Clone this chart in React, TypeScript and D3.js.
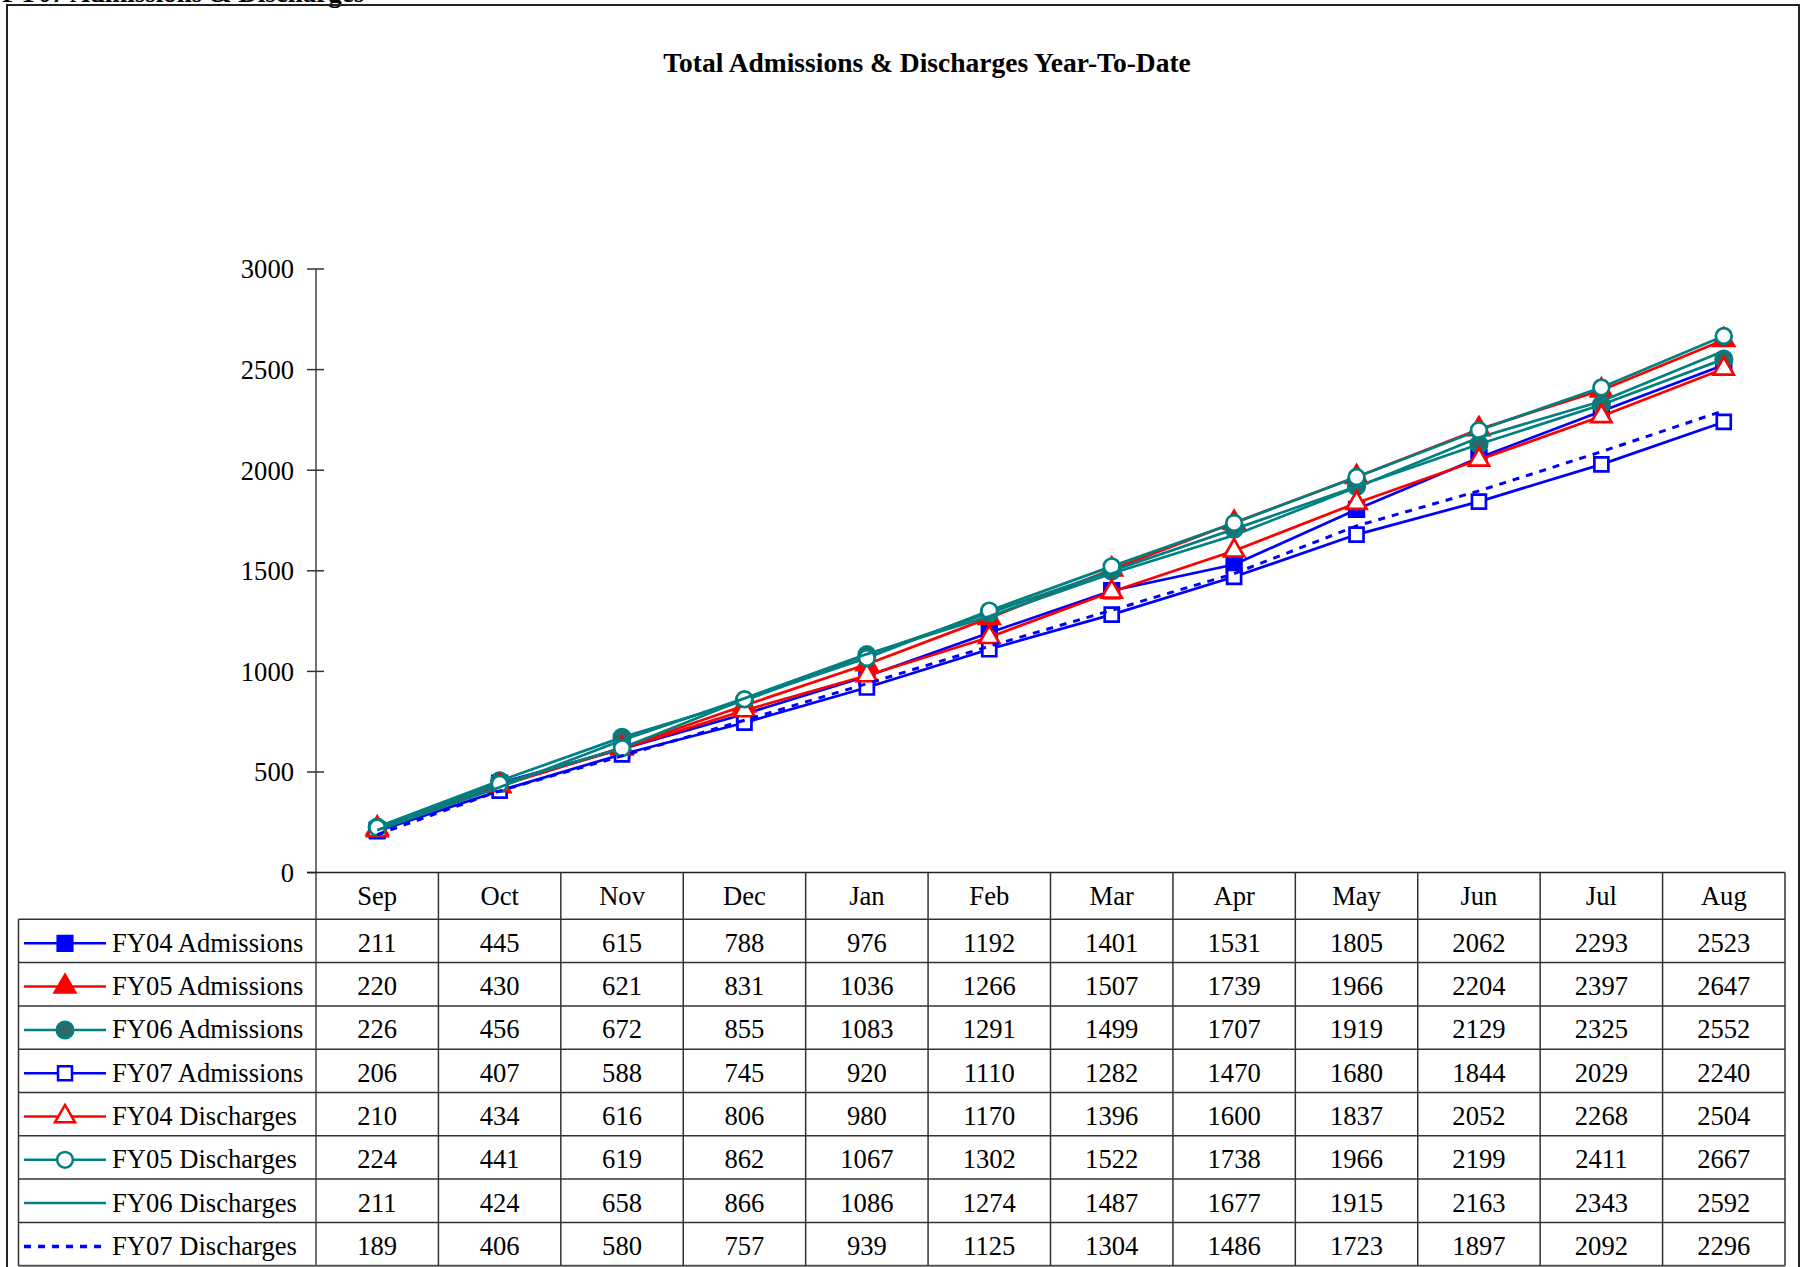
import React from "react";
import * as d3 from "d3";

const months = ["Sep", "Oct", "Nov", "Dec", "Jan", "Feb", "Mar", "Apr", "May", "Jun", "Jul", "Aug"];
const yTicks = [0, 500, 1000, 1500, 2000, 2500, 3000];

const fy04Admissions = [211, 445, 615, 788, 976, 1192, 1401, 1531, 1805, 2062, 2293, 2523];
const fy05Admissions = [220, 430, 621, 831, 1036, 1266, 1507, 1739, 1966, 2204, 2397, 2647];
const fy06Admissions = [226, 456, 672, 855, 1083, 1291, 1499, 1707, 1919, 2129, 2325, 2552];
const fy07Admissions = [206, 407, 588, 745, 920, 1110, 1282, 1470, 1680, 1844, 2029, 2240];
const fy04Discharges = [210, 434, 616, 806, 980, 1170, 1396, 1600, 1837, 2052, 2268, 2504];
const fy05Discharges = [224, 441, 619, 862, 1067, 1302, 1522, 1738, 1966, 2199, 2411, 2667];
const fy06Discharges = [211, 424, 658, 866, 1086, 1274, 1487, 1677, 1915, 2163, 2343, 2592];
const fy07Discharges = [189, 406, 580, 757, 939, 1125, 1304, 1486, 1723, 1897, 2092, 2296];

const BLUE = "#0000ff";
const RED = "#ff0000";
const TEAL = "#008080";

type Series = {
  name: string;
  values: number[];
  color: string;
  symbol: d3.SymbolType | null;
  size: number;
  fill: string;
  dash?: string;
};

const series: Series[] = [
  { name: "FY04 Admissions", values: fy04Admissions, color: BLUE, symbol: d3.symbolSquare, size: 215, fill: BLUE },
  { name: "FY05 Admissions", values: fy05Admissions, color: RED, symbol: d3.symbolTriangle, size: 185, fill: RED },
  { name: "FY06 Admissions", values: fy06Admissions, color: TEAL, symbol: d3.symbolCircle, size: 215, fill: "#2f6868" },
  { name: "FY07 Admissions", values: fy07Admissions, color: BLUE, symbol: d3.symbolSquare, size: 195, fill: "#ffffff" },
  { name: "FY04 Discharges", values: fy04Discharges, color: RED, symbol: d3.symbolTriangle, size: 175, fill: "#ffffff" },
  { name: "FY05 Discharges", values: fy05Discharges, color: TEAL, symbol: d3.symbolCircle, size: 195, fill: "#ffffff" },
  { name: "FY06 Discharges", values: fy06Discharges, color: TEAL, symbol: null, size: 0, fill: "none" },
  { name: "FY07 Discharges", values: fy07Discharges, color: BLUE, symbol: null, size: 0, fill: "none", dash: "7,7" },
];

const W = 1803;
const H = 1267;
const FONT = "'Liberation Serif', 'Times New Roman', serif";
const FS = 26.6;

const App = () => {
  // plot geometry
  const left = 316;
  const right = 1785;
  const top = 269;
  const bottom = 872.6;
  const legendLeft = 18.5;
  const headerBottom = 919.3;
  const rowH = 43.3;

  const x = d3.scaleBand<string>().domain(months).range([left, right]);
  const y = d3.scaleLinear().domain([0, 3000]).range([bottom, top]);

  const line = d3.line<number>()
    .x((_, i) => (x(months[i]) ?? 0) + x.bandwidth() / 2)
    .y(d => y(d));

  const sym = (s: Series) => d3.symbol().type(s.symbol as d3.SymbolType).size(s.size)() ?? "";

  const tableBottom = headerBottom + rowH * series.length;

  return (
    <svg width={W} height={H} style={{ position: "absolute", left: 0, top: 0, background: "#fff" }}
      fontFamily={FONT}>
      <rect x={0} y={0} width={W} height={H} fill="#fff" />
      {/* header cut off above the frame, as in the source */}
      <text x={2} y={2} fontSize={27} fontWeight="bold" fill="#000">FY07 Admissions &amp; Discharges</text>
      {/* outer frame */}
      <rect x={7} y={5} width={1792} height={H + 10} fill="none" stroke="#222" strokeWidth={2} />

      <text x={927} y={72} textAnchor="middle" fontSize={27.5} fontWeight="bold" fill="#000">
        Total Admissions &amp; Discharges Year-To-Date
      </text>

      {/* y axis */}
      <line x1={left} x2={left} y1={top} y2={tableBottom} stroke="#444" strokeWidth={1.5} />
      {yTicks.map(t => (
        <g key={t}>
          <line x1={307} x2={t === 0 ? left : 324} y1={y(t)} y2={y(t)} stroke="#333" strokeWidth={1.5} />
          <text x={294} y={y(t)} dy="0.35em" textAnchor="end" fontSize={FS} fill="#000">{t}</text>
        </g>
      ))}

      {/* data table grid */}
      <line x1={307} x2={right} y1={bottom} y2={bottom} stroke="#222" strokeWidth={1.5} />
      {series.map((_, i) => (
        <line key={i} x1={legendLeft} x2={right} y1={headerBottom + rowH * i} y2={headerBottom + rowH * i}
          stroke="#333" strokeWidth={1.5} />
      ))}
      <line x1={legendLeft} x2={right} y1={tableBottom} y2={tableBottom} stroke="#555" strokeWidth={2} />
      <line x1={legendLeft} x2={legendLeft} y1={headerBottom} y2={tableBottom} stroke="#333" strokeWidth={1.5} />
      {months.map(m => (
        <line key={m} x1={(x(m) ?? 0) + x.bandwidth()} x2={(x(m) ?? 0) + x.bandwidth()}
          y1={bottom} y2={tableBottom} stroke="#333" strokeWidth={1.5} />
      ))}
      {months.map(m => (
        <text key={m} x={(x(m) ?? 0) + x.bandwidth() / 2} y={bottom + 32.5} textAnchor="middle" fontSize={FS}>
          {m}
        </text>
      ))}
      {series.map((s, r) => (
        <g key={s.name}>
          {s.values.map((v, i) => (
            <text key={i} x={(x(months[i]) ?? 0) + x.bandwidth() / 2} y={headerBottom + rowH * r + 32.5}
              textAnchor="middle" fontSize={FS}>{v}</text>
          ))}
          {/* legend key */}
          <line x1={24} x2={106} y1={headerBottom + rowH * r + 24} y2={headerBottom + rowH * r + 24}
            stroke={s.color} strokeWidth={s.dash ? 3.5 : 2.5} strokeDasharray={s.dash} />
          {s.symbol && (
            <path d={sym(s)} transform={`translate(65,${headerBottom + rowH * r + 24})`}
              fill={s.fill} stroke={s.color} strokeWidth={2.5} />
          )}
          <text x={112} y={headerBottom + rowH * r + 32.5} fontSize={FS}>{s.name}</text>
        </g>
      ))}

      {/* series lines */}
      {series.map(s => (
        <g key={s.name}>
          <path d={line(s.values) ?? ""} fill="none" stroke={s.color} strokeWidth={s.dash ? 3 : 2.7}
            strokeDasharray={s.dash} />
          {s.symbol && s.values.map((v, i) => (
            <path key={i} d={sym(s)}
              transform={`translate(${(x(months[i]) ?? 0) + x.bandwidth() / 2},${y(v)})`}
              fill={s.fill} stroke={s.color} strokeWidth={2.7} />
          ))}
        </g>
      ))}
    </svg>
  );
};

export default App;
